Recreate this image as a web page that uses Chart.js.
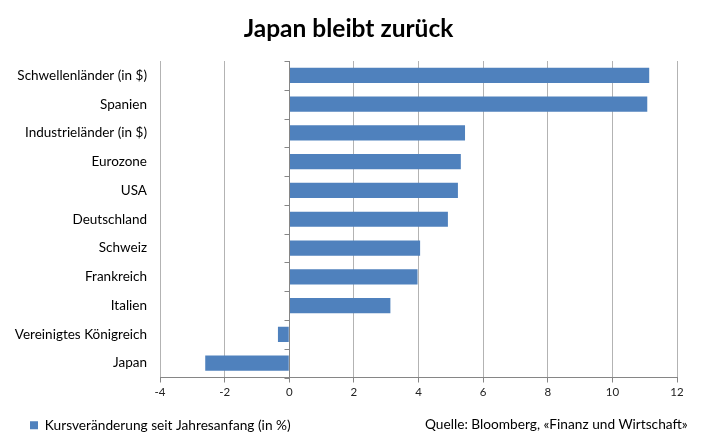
<!DOCTYPE html>
<html>
<head>
<meta charset="utf-8">
<script src="https://cdn.jsdelivr.net/npm/chart.js@4"></script>
<style>
  html, body { margin: 0; padding: 0; background: #fff; }
  #wrap { position: relative; width: 705px; height: 446px; }
  #source { position: absolute; left: 425px; top: 415px; font: 13.7px Lato, sans-serif; color: #000; white-space: nowrap; }
</style>
</head>
<body>
<div id="wrap">
  <canvas id="canvas" width="705" height="446"></canvas>
  <div id="source">Quelle: Bloomberg, «Finanz und Wirtschaft»</div>
</div>
<script>
const categories = [
  "Schwellenländer (in $)", "Spanien", "Industrieländer (in $)", "Eurozone", "USA",
  "Deutschland", "Schweiz", "Frankreich", "Italien", "Vereinigtes Königreich", "Japan"
];
const values = [11.14, 11.08, 5.44, 5.31, 5.22, 4.91, 4.05, 3.97, 3.13, -0.35, -2.6];
const seriesLabel = "Kursveränderung seit Jahresanfang (in %)";
const xMin = -4, xMax = 12, xStep = 2;

const ctx = document.getElementById("canvas").getContext("2d");

// zero line with category tick marks, like the Excel axis crossing at 0
const zeroAxis = {
  id: "zeroAxis",
  afterLayout: (chart) => {
    // let the long category labels run into the left padding without clipping
    chart.scales.y.left = 0;
  },
  afterDatasetsDraw: (chart) => {
    const { ctx, scales: { x }, chartArea } = chart;
    const px = Math.round(x.getPixelForValue(0)) + 0.5;
    ctx.save();
    ctx.strokeStyle = "#868686";
    ctx.lineWidth = 1;
    ctx.beginPath();
    ctx.moveTo(px, chartArea.top);
    ctx.lineTo(px, chartArea.bottom);
    const n = categories.length;
    const step = (chartArea.bottom - chartArea.top) / n;
    for (let i = 0; i <= n; i++) {
      const py = Math.round(chartArea.top + i * step) + 0.5;
      ctx.moveTo(px - 5, py);
      ctx.lineTo(px, py);
    }
    ctx.stroke();
    ctx.restore();
  }
};

const plot = new Chart(ctx, {
  type: "bar",
  data: {
    labels: categories,
    datasets: [{
      label: seriesLabel,
      data: values,
      backgroundColor: "#4f81bd",
      borderWidth: 0,
      barPercentage: 0.53,
      categoryPercentage: 1
    }]
  },
  options: {
    indexAxis: "y",
    responsive: false,
    animation: false,
    layout: { padding: { left: 20, right: 28, top: 0, bottom: 4 } },
    scales: {
      x: {
        min: xMin,
        max: xMax,
        ticks: { stepSize: xStep, color: "#222", font: { family: "Lato", size: 11.5 }, padding: 3 },
        grid: { color: "#b3b3b3", tickColor: "#868686", tickLength: 5 },
        border: { color: "#868686" },
        afterFit: (s) => { s.height = 30.8; }
      },
      y: {
        ticks: { color: "#000", font: { family: "Lato", size: 13.5 }, padding: 13 },
        grid: { display: false, drawTicks: false },
        border: { display: false },
        afterFit: (s) => { s.width = 140; }
      }
    },
    plugins: {
      title: {
        display: true,
        text: "Japan bleibt zurück",
        color: "#000",
        font: { family: "Lato", size: 24.5, weight: "bold" },
        padding: { top: 14, bottom: 17.6 }
      },
      legend: {
        position: "bottom",
        align: "start",
        labels: {
          boxWidth: 8, boxHeight: 8, padding: 10,
          color: "#000",
          font: { family: "Lato", size: 13.7 }
        }
      },
      tooltip: { enabled: false }
    }
  },
  plugins: [zeroAxis]
});
</script>
</body>
</html>
